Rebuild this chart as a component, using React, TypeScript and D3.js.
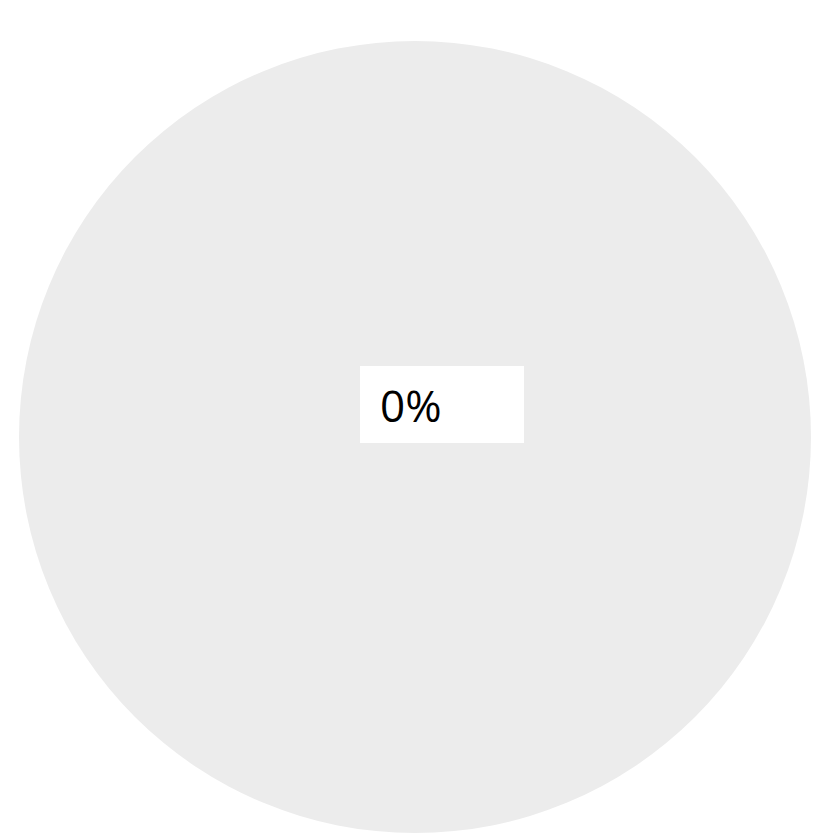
import React from "react";
import * as d3 from "d3";

const categories = ["Complete", "Remaining"];
const values = [0, 100];
const percentLabel = ["0%"];

const W = 820;
const H = 835;

export default function App() {
  const cx = 415;
  const cy = 437;
  const r = 396;
  const pie = d3.pie<number>().sort(null).value((d) => d);
  const arcs = pie(values);
  const arc = d3.arc<d3.PieArcDatum<number>>().innerRadius(0).outerRadius(r);
  const colors = d3.scaleOrdinal<string, string>().domain(categories).range(["#4472c4", "#ececec"]);
  const total = d3.sum(values);
  const pct = total ? values[0] / total : 0;
  const label = percentLabel[0] ?? d3.format(".0%")(pct);
  return (
    <svg width={W} height={H} style={{ position: "absolute", left: 0, top: 0 }}>
      <rect width={W} height={H} fill="#ffffff" />
      <g transform={`translate(${cx},${cy})`}>
        {arcs.map((a, i) =>
          a.endAngle - a.startAngle > 0 ? (
            <path key={i} d={arc(a) || ""} fill={colors(categories[i])} />
          ) : null
        )}
      </g>
      <rect x={360} y={366} width={164} height={77} fill="#ffffff" />
      <text x={380} y={422} fontFamily="'Open Sans', sans-serif" fontSize={44} fill="#000000">
        {label}
      </text>
    </svg>
  );
}
